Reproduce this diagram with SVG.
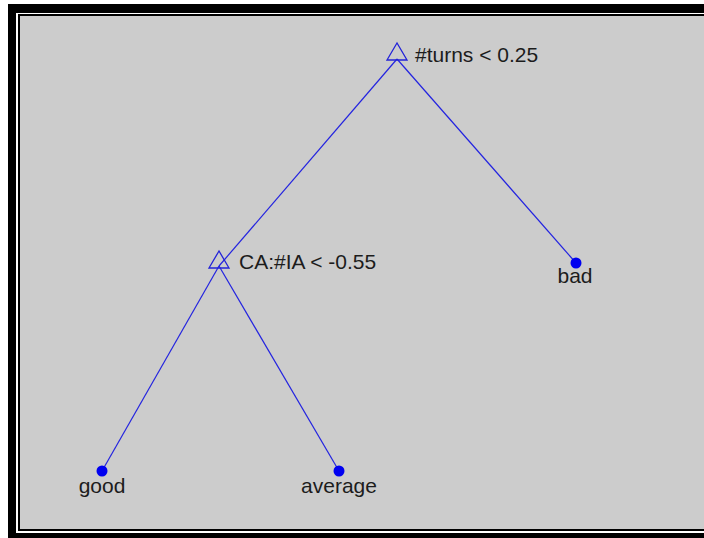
<svg xmlns="http://www.w3.org/2000/svg" width="704" height="538" viewBox="0 0 704 538">
<style>
.edge{stroke:#2323e0;stroke-width:1.2;fill:none}
.tri{stroke:#2323d8;stroke-width:1.3;fill:none}
.leaf{fill:#0000f0}
.lbl{font-family:"Liberation Sans",Arial,sans-serif;font-size:21px;fill:#1c1c1c}
</style>
<rect x="0" y="0" width="704" height="538" fill="#ffffff"/>
<rect x="8" y="4" width="696" height="534" fill="#000000"/>
<rect x="16" y="13" width="688" height="520" fill="#ffffff"/>
<rect x="18" y="14" width="686" height="517" fill="#000000"/>
<rect x="20" y="16" width="684" height="513" fill="#cccccc"/>
<g id="connectors">
<line class="edge" x1="397" y1="59" x2="576" y2="263"/>
<line class="edge" x1="397" y1="59" x2="219" y2="266"/>
<line class="edge" x1="219" y1="266" x2="102" y2="471"/>
<line class="edge" x1="219" y1="266" x2="339" y2="471"/>
</g>
<g id="root">
<polygon class="tri" points="397,43 387,60 407,60"/>
<text class="lbl" x="415" y="62">#turns &lt; 0.25</text>
</g>
<g id="ca">
<polygon class="tri" points="219,251 209,268 229,268"/>
<text class="lbl" x="239" y="269">CA:#IA &lt; -0.55</text>
</g>
<g id="bad">
<circle class="leaf" cx="576" cy="263" r="5.5"/>
<text class="lbl" x="575" y="283" text-anchor="middle">bad</text>
</g>
<g id="good">
<circle class="leaf" cx="102" cy="471" r="5.5"/>
<text class="lbl" x="102" y="493" text-anchor="middle">good</text>
</g>
<g id="average">
<circle class="leaf" cx="339" cy="471" r="5.5"/>
<text class="lbl" x="339" y="493" text-anchor="middle">average</text>
</g>
</svg>
